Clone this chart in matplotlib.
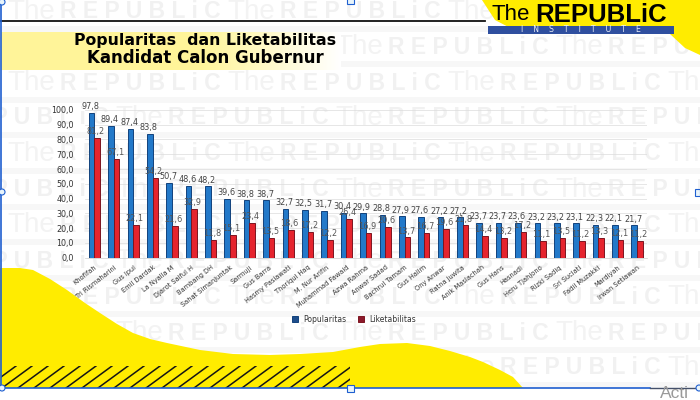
import matplotlib
matplotlib.use("Agg")
import matplotlib.pyplot as plt
from matplotlib.patches import Polygon, Rectangle, Circle
import numpy as np

# data
kandidat = ["Khofifah", "Tri Rismaharini", "Gus Ipul", "Emil Dardak", "La Nyalla M",
            "Djarot Saiful H", "Bambang DH", "Sahat Simanjuntak", "Sarmuji", "Gus Barra",
            "Hasmy Pasiawati", "Thoriqul Haq", "M. Nur Arifin", "Muhammad Fawaid", "Azwa Rahma",
            "Anwar Sadad", "Bachrul Tamam", "Gus Halim", "Ony Anwar", "Ratna Juwita",
            "Anik Maslachah", "Gus Hans", "Hasnadi", "Heru Tjahjono", "Rizki Sadiq",
            "Sri Suciati", "Fadil Muzakki", "Mardiyah", "Irwan Setiawan"]
popularitas = [97.8, 89.4, 87.4, 83.8, 50.7, 48.6, 48.2, 39.6, 38.8, 38.7,
               32.7, 32.5, 31.7, 30.4, 29.9, 28.8, 27.9, 27.6, 27.2, 27.2,
               23.7, 23.7, 23.6, 23.2, 23.2, 23.1, 22.3, 22.1, 21.7]
liketabilitas = [81.2, 67.1, 22.1, 54.2, 21.6, 32.9, 11.8, 15.1, 23.4, 13.5,
                 18.6, 17.2, 12.2, 26.4, 16.9, 20.6, 13.7, 16.7, 19.6, 21.8,
                 14.4, 13.2, 17.2, 11.1, 13.5, 11.2, 13.3, 12.1, 11.2]
yticks = [0, 10, 20, 30, 40, 50, 60, 70, 80, 90, 100]

W, H = 700, 400
YELLOW = "#ffec00"
FRAME = "#1f5fd0"

fig = plt.figure(figsize=(7, 4), dpi=100)

# background layer in pixel coordinates
bg = fig.add_axes([0, 0, 1, 1])
bg.axis("off")

# watermark rows
rows = [12, 47, 83, 118, 154, 190, 225, 261, 297, 333, 368]
for i, y in enumerate(rows):
    off = 7 if i % 2 == 0 else 115
    bg.add_patch(Rectangle((0, y + 14), W, 6, fc="#f7f7f7", ec="none", zorder=0))
    for k in range(-1, 4):
        x = off + k * 220
        bg.text(x, y, "The", fontsize=20, color="#f3f3f3", va="center",
                family="Liberation Sans", zorder=1)
        bg.text(x + 53, y, "R E P U B L i C", fontsize=16.5, weight="bold", color="#f1f1f1",
                va="center", family="Liberation Sans", zorder=1)

# yellow wave at the bottom
wave = [(0, 268), (20, 268), (33, 270), (50, 279), (67, 290), (85, 303), (100, 313),
        (117, 324), (133, 333), (150, 339), (167, 343), (200, 350), (233, 354), (270, 355),
        (300, 354), (333, 352), (360, 347), (380, 344), (407, 343), (430, 346), (450, 351),
        (470, 357), (483, 362), (500, 370), (513, 377), (523, 388), (0, 388)]
bg.add_patch(Polygon(wave, fc=YELLOW, ec="none", zorder=2))

# hatched strip
strip = Rectangle((1, 366), 349, 22, transform=bg.transData)
for x0 in range(-30, 380, 16):
    ln, = bg.plot([x0, x0 + 30], [388, 366], color="#151515", lw=1.1, zorder=3)
    ln.set_clip_path(strip)

# yellow corner top right
bg.add_patch(Polygon([(482, 0), (700, 0), (700, 55), (685, 48), (670, 34), (520, 33), (495, 20)],
                     fc=YELLOW, ec="none", zorder=2))

# title band
fade = np.ones((1, 340, 4))
fade[0, :, 1] = np.r_[np.full(200, 0.96), np.linspace(0.96, 1.0, 140)]
fade[0, :, 2] = np.r_[np.full(200, 0.60), np.linspace(0.60, 1.0, 140)]
bg.imshow(fade, extent=(1, 341, 70, 32), aspect="auto", zorder=2)
bg.plot([1, 485], [21, 21], color="#111111", lw=1.3, zorder=3)

bg.set_xlim(0, W)
bg.set_ylim(H, 0)

# slide frame
bg.plot([1, 1], [4, 388], color=FRAME, lw=1.2, zorder=4)
bg.plot([1, 650], [388, 388], color=FRAME, lw=1.2, zorder=4)
bg.plot([650, 700], [388, 388], color="#44506a", lw=1.0, zorder=4)
for cx, cy in [(2, 192), (2, 388), (2, 2), (699, 388)]:
    bg.add_patch(Circle((cx, cy), 3, fc="#e8f4fb", ec=FRAME, lw=0.8, zorder=5))
bg.add_patch(Rectangle((347, 385), 7, 7, fc="#e8f4fb", ec=FRAME, lw=0.8, zorder=5))
bg.add_patch(Rectangle((347, -2), 7, 6, fc="#e8f4fb", ec=FRAME, lw=0.8, zorder=5))
bg.add_patch(Rectangle((695, 189), 5, 7, fc="#e8f4fb", ec=FRAME, lw=0.8, zorder=5))
bg.text(660, 393, "Acti", fontsize=12.5, color="#9a9a9a", va="center",
        family="Liberation Sans", zorder=5)

# logo
bg.text(492, 15, "The", fontsize=16, color="black", va="center", family="Liberation Sans", zorder=4)
bg.text(535, 15, "REPUBLiC", fontsize=18.5, weight="bold", color="black", va="center",
        family="Liberation Sans", zorder=4)
bg.add_patch(Rectangle((488, 26), 186, 8, fc="#2f4f9f", ec="none", zorder=4))
bg.text(581, 30, "I    N    S    T    I    T    U    T    E", fontsize=5.6, color="#e8ecf5",
        ha="center", va="center", zorder=5)

# title
bg.text(205, 40, "Popularitas  dan Liketabilitas", fontsize=11.3, weight="bold",
        color="black", ha="center", va="center", family="DejaVu Sans", zorder=4)
bg.text(205, 58, "Kandidat Calon Gubernur", fontsize=12, weight="bold",
        color="black", ha="center", va="center", family="DejaVu Sans", zorder=4)

# chart
ax = fig.add_axes([84.8 / W, 1 - 257.5 / H, (646.7 - 84.8) / W, (257.5 - 110) / H])
ax.patch.set_alpha(0)
x = np.arange(len(kandidat))
bw = 0.29
ax.bar(x - bw / 2, popularitas, bw, color="#2379c9", edgecolor="#12427c", linewidth=0.7, label="Popularitas")
ax.bar(x + bw / 2, liketabilitas, bw, color="#e5242e", edgecolor="#7d1520", linewidth=0.7, label="Liketabilitas")
for i in x:
    ax.text(i - bw / 2 - 0.06, popularitas[i] + 1.2, f"{popularitas[i]:.1f}".replace(".", ","), fontsize=5.9,
            ha="center", va="bottom", color="#444444", clip_on=False)
    ax.text(i + bw / 2 - 0.08, liketabilitas[i] + 1.2, f"{liketabilitas[i]:.1f}".replace(".", ","), fontsize=5.9,
            ha="center", va="bottom", color="#555555", clip_on=False)
ax.set_xlim(-0.5, len(kandidat) - 0.5)
ax.set_ylim(0, 100)
ax.set_yticks(yticks)
ax.set_yticklabels([f"{v:.1f}".replace(".", ",") for v in yticks], fontsize=5.8, color="#333333")
ax.set_xticks(x)
ax.set_xticklabels(kandidat, rotation=38, ha="right", rotation_mode="anchor", fontsize=4.8, color="#333333")
ax.tick_params(axis="x", length=0, pad=5)
ax.tick_params(axis="y", length=0, pad=8)
ax.grid(axis="y", color="#dcdcdc", lw=0.5)
ax.set_axisbelow(True)
for s in ["top", "right", "left"]:
    ax.spines[s].set_visible(False)
ax.spines["bottom"].set_color("#cccccc")
ax.spines["bottom"].set_linewidth(0.5)

leg = ax.legend(loc="center", bbox_to_anchor=(0.479, -0.417), ncol=2, frameon=False, fontsize=5.5,
                handlelength=0.8, handleheight=0.8, columnspacing=1.6, handletextpad=0.6,
                labelcolor="#333333")
leg.legend_handles[0].set_facecolor("#1f4e8c")
leg.legend_handles[1].set_facecolor("#8c1a2c")

fig.savefig("out.png", dpi=100)
